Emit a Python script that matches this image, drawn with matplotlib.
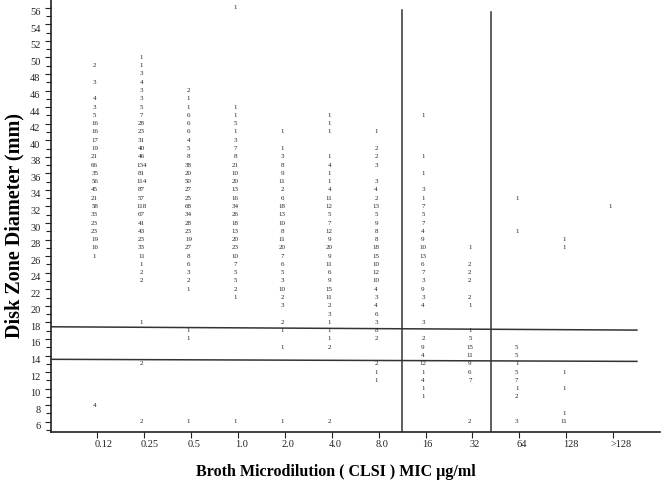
import numpy as np
import matplotlib
matplotlib.use('Agg')
import matplotlib.pyplot as plt
from matplotlib.ticker import MultipleLocator
from matplotlib.transforms import ScaledTranslation

plt.rcParams['font.family'] = ['Liberation Serif', 'DejaVu Serif']

# MIC categories (x) and isolate counts per disk zone diameter (mm) row
mic_labels = ['0.12', '0.25', '0.5', '1.0', '2.0', '4.0', '8.0', '16', '32', '64', '128', '>128']

counts_012 = {49: 2, 47: 3, 45: 4, 44: 3, 43: 5, 42: 16, 41: 16, 40: 17, 39: 19, 38: 21, 37: 66,
              36: 35, 35: 56, 34: 45, 33: 21, 32: 58, 31: 33, 30: 23, 29: 23, 28: 19, 27: 16, 26: 1,
              8: 4}
counts_025 = {50: 1, 49: 1, 48: 3, 47: 4, 46: 3, 45: 3, 44: 5, 43: 7, 42: 28, 41: 23, 40: 31,
              39: 40, 38: 46, 37: 134, 36: 81, 35: 114, 34: 87, 33: 57, 32: 118, 31: 67, 30: 41,
              29: 43, 28: 23, 27: 33, 26: 11, 25: 1, 24: 2, 23: 2, 18: 1, 13: 2, 6: 2}
counts_05 = {46: 2, 45: 1, 44: 1, 43: 6, 42: 6, 41: 6, 40: 4, 39: 5, 38: 8, 37: 38, 36: 20,
             35: 50, 34: 27, 33: 25, 32: 68, 31: 34, 30: 28, 29: 23, 28: 19, 27: 27, 26: 8, 25: 6,
             24: 3, 23: 2, 22: 1, 17: 1, 16: 1, 6: 1}
counts_1 = {56: 1, 44: 1, 43: 1, 42: 5, 41: 1, 40: 3, 39: 7, 38: 8, 37: 21, 36: 10, 35: 20,
            34: 13, 33: 16, 32: 34, 31: 26, 30: 18, 29: 13, 28: 20, 27: 23, 26: 10, 25: 7, 24: 5,
            23: 5, 22: 2, 21: 1, 6: 1}
counts_2 = {41: 1, 39: 1, 38: 3, 37: 8, 36: 9, 35: 11, 34: 2, 33: 6, 32: 18, 31: 13, 30: 10,
            29: 8, 28: 11, 27: 20, 26: 7, 25: 6, 24: 5, 23: 3, 22: 10, 21: 2, 20: 3, 18: 2, 17: 1,
            15: 1, 6: 1}
counts_4 = {43: 1, 42: 1, 41: 1, 38: 1, 37: 4, 36: 1, 35: 1, 34: 4, 33: 11, 32: 12, 31: 5,
            30: 7, 29: 12, 28: 9, 27: 20, 26: 9, 25: 11, 24: 6, 23: 9, 22: 15, 21: 11, 20: 2,
            19: 3, 18: 1, 17: 1, 16: 1, 15: 2, 6: 2}
counts_8 = {41: 1, 39: 2, 38: 2, 37: 3, 35: 3, 34: 4, 33: 2, 32: 13, 31: 5, 30: 9, 29: 8,
            28: 8, 27: 18, 26: 15, 25: 10, 24: 12, 23: 10, 22: 4, 21: 3, 20: 4, 19: 6, 18: 3,
            17: 8, 16: 2, 13: 2, 12: 1, 11: 1}
counts_16 = {43: 1, 38: 1, 36: 1, 34: 3, 33: 1, 32: 7, 31: 5, 30: 7, 29: 4, 28: 9, 27: 10,
             26: 13, 25: 6, 24: 7, 23: 3, 22: 9, 21: 3, 20: 4, 18: 3, 16: 2, 15: 9, 14: 4,
             13: 12, 12: 1, 11: 4, 10: 1, 9: 1}
counts_32 = {27: 1, 25: 2, 24: 2, 23: 2, 21: 2, 20: 1, 17: 1, 16: 5, 15: 15, 14: 11, 13: 9,
             12: 6, 11: 7, 6: 2}
counts_64 = {33: 1, 29: 1, 15: 5, 14: 5, 13: 1, 12: 5, 11: 7, 10: 1, 9: 2, 6: 3}
counts_128 = {28: 1, 27: 1, 12: 1, 10: 1, 7: 1, 6: 11}
counts_gt128 = {32: 1}

columns = [counts_012, counts_025, counts_05, counts_1, counts_2, counts_4, counts_8,
           counts_16, counts_32, counts_64, counts_128, counts_gt128]

# breakpoint lines (MIC index, mm)
vline_x = [6.55, 8.45]
vline_top = [55.7, 55.5]
hline_y_left = [17.47, 13.54]
hline_y_right = [17.07, 13.29]

fig = plt.figure(figsize=(6.64, 4.87), dpi=100)
ax = fig.add_axes([0.0768, 0.1129, 0.917, 0.887])

for i, col in enumerate(columns):
    for mm, n in col.items():
        ax.text(i, mm, str(n), ha='center', va='center', fontsize=5, color='#222222')

for x, top in zip(vline_x, vline_top):
    ax.plot([x, x], [4.76, top], color='#333333', lw=1.1)
for yl, yr in zip(hline_y_left, hline_y_right):
    ax.plot([-0.93, 11.56], [yl, yr], color='#333333', lw=1.1)

ax.set_xlim(-0.93, 12.05)
ax.set_ylim(4.76, 56.93)

ax.set_xticks(np.arange(len(mic_labels)) + 0.055)
ax.set_xticklabels(mic_labels, ha='left')
ax.set_yticks(np.arange(6, 57, 2))
ax.yaxis.set_minor_locator(MultipleLocator(1))

for s in ['top', 'right']:
    ax.spines[s].set_visible(False)
for s in ['left', 'bottom']:
    ax.spines[s].set_linewidth(1.2)
    ax.spines[s].set_color('#222222')

ax.tick_params(axis='x', which='major', length=4, width=0.8, pad=2, labelsize=7.5, colors='#222222')
ax.tick_params(axis='y', which='major', length=4.5, width=0.8, pad=3, labelsize=7.5, colors='#222222')
ax.tick_params(axis='y', which='minor', length=3.5, width=0.8, colors='#222222')

for lab in ax.get_xticklabels():
    lab.set_transform(lab.get_transform() + ScaledTranslation(-3 / 100, 0, fig.dpi_scale_trans))
for lab in ax.get_yticklabels():
    lab.set_transform(lab.get_transform() + ScaledTranslation(0, -4 / 100, fig.dpi_scale_trans))

fig.text(336 / 664, 1 - 472 / 487, 'Broth Microdilution ( CLSI ) MIC \u00b5g/ml',
         ha='center', va='center', fontsize=11.5, fontweight='bold')
fig.text(14 / 664, 1 - 225 / 487, 'Disk Zone Diameter (mm)', rotation=90,
         ha='center', va='center', fontsize=14.5, fontweight='bold')

fig.savefig('out.png', dpi=100)
